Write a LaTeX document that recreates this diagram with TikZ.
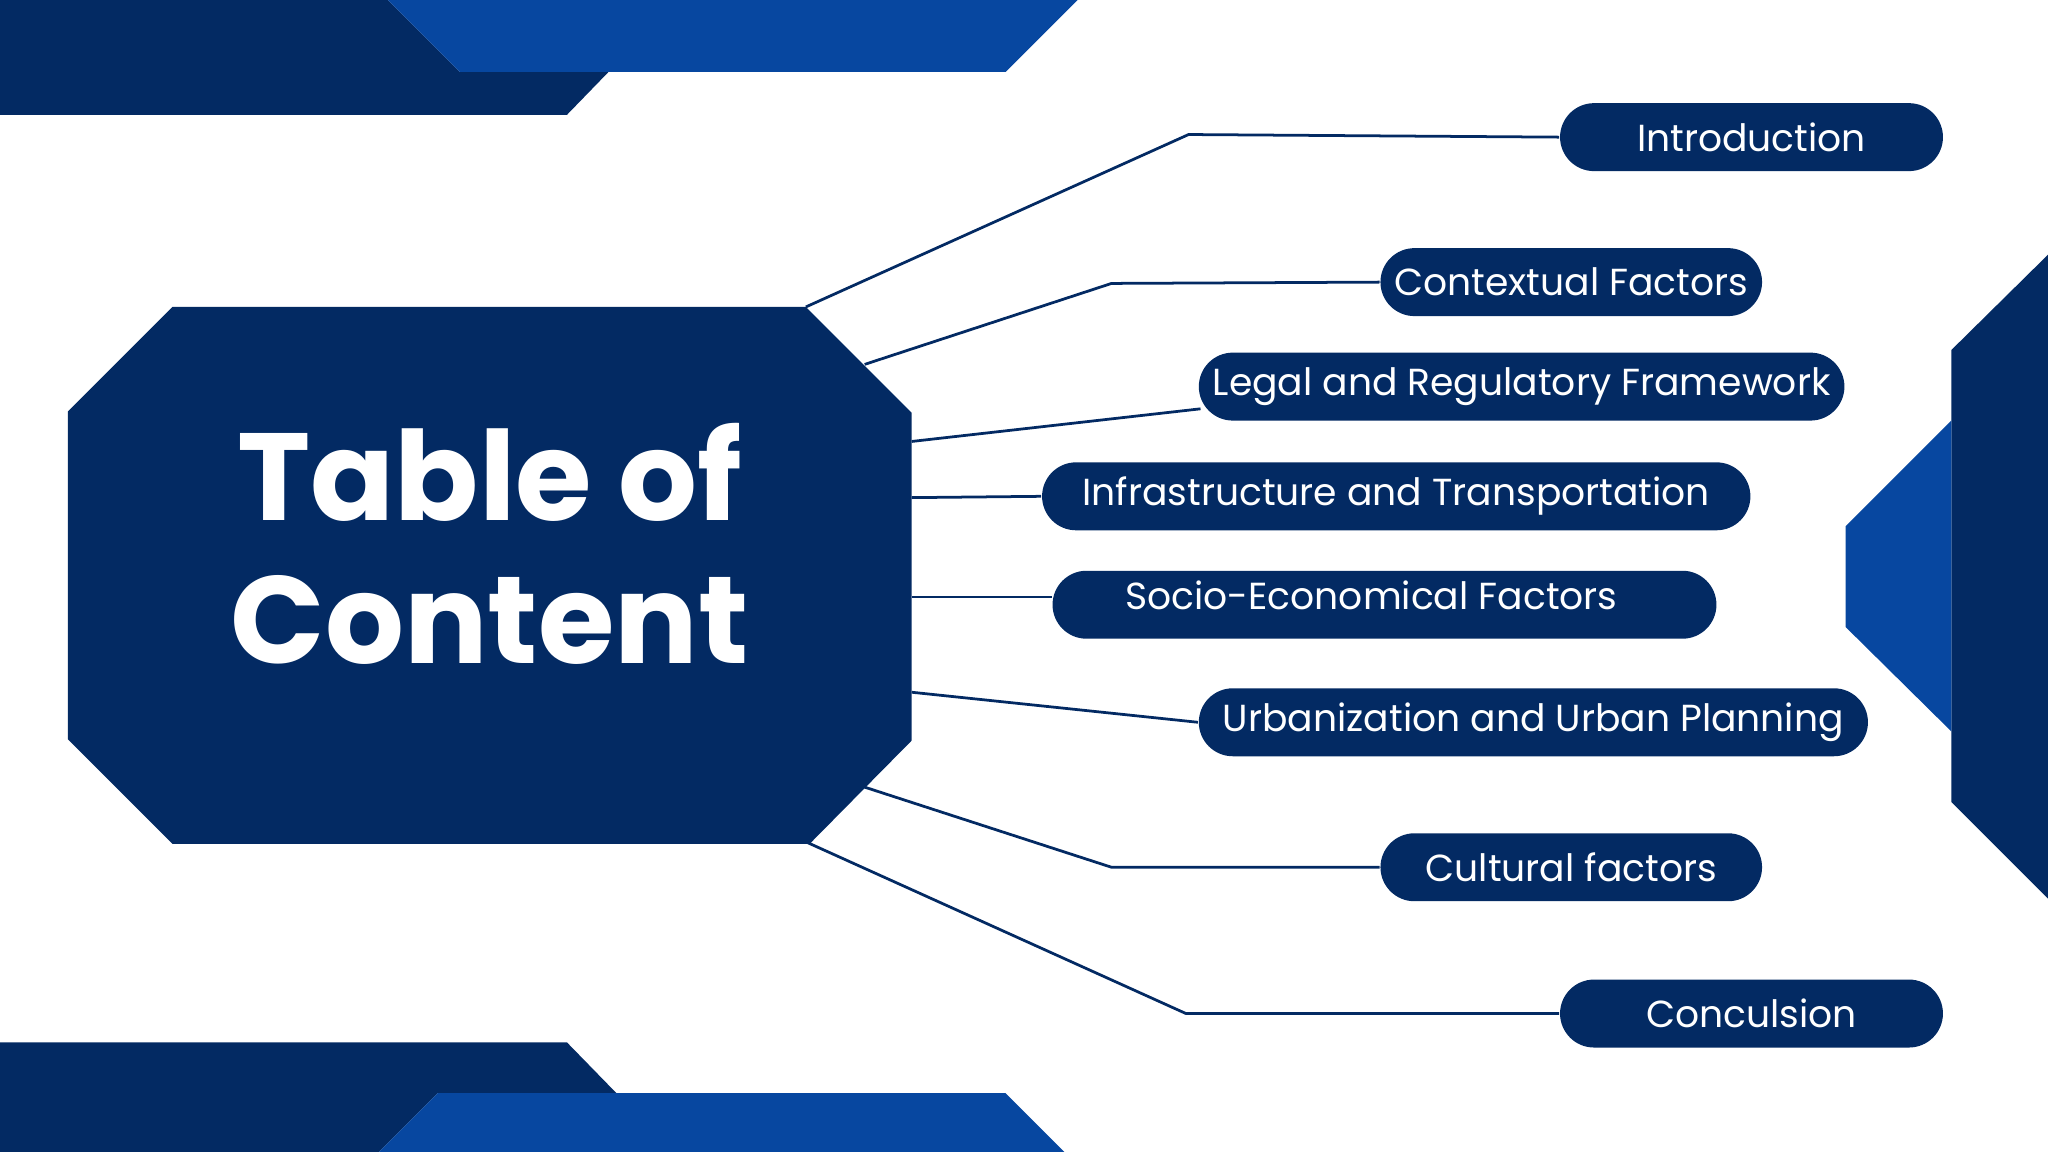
\documentclass[tikz,border=0pt]{standalone}
\usepackage{fontspec}
\setmainfont{Poppins}
\usetikzlibrary{calc}
\definecolor{navy}{HTML}{032A63}
\definecolor{brite}{HTML}{0747A0}
\begin{document}
\begin{tikzpicture}[x=0.01cm,y=-0.01cm,
  pill/.style={fill=navy,text=white,rounded corners=0.26cm,minimum height=0.52cm,inner sep=0pt,font=\fontsize{8.2}{9}\selectfont},
  link/.style={draw=navy,line width=0.6pt}]
\useasboundingbox (0,0) rectangle (1568,882);
% decorations
\fill[navy] (0,0)--(297,0)--(352,55)--(466,55)--(434,88)--(0,88)--cycle;
\fill[brite] (297,0)--(825,0)--(770,55)--(352,55)--cycle;
\fill[navy] (0,798)--(434,798)--(472,837)--(335,837)--(290,882)--(0,882)--cycle;
\fill[brite] (335,837)--(770,837)--(815,882)--(290,882)--cycle;
\fill[navy] (1568,195)--(1494,268)--(1494,614)--(1568,688)--cycle;
\fill[brite] (1494,322)--(1413,403)--(1413,480)--(1494,560)--cycle;
% octagon
\fill[navy] (132,235)--(617,235)--(698,316)--(698,567)--(620,646)--(132,646)--(52,566)--(52,315)--cycle;
\node[text=white,font=\fontsize{27}{30}\selectfont\bfseries] (title1) at (375,362) {Table of};
\node[text=white,font=\fontsize{27}{30}\selectfont\bfseries] (title2) at (375,475) {Content};
% corner coordinates
\coordinate (c1) at (617,235);
\coordinate (c2) at (662,279);
\coordinate (c3) at (698,338);
\coordinate (c4) at (698,381);
\coordinate (c5) at (698,457);
\coordinate (c6) at (698,530);
\coordinate (c7) at (660,602);
\coordinate (c8) at (618,645);
% pills
\node[pill,minimum width=2.93cm] (p1) at (1341,105) {Introduction};
\node[pill,minimum width=2.92cm] (p2) at (1203,216) {Contextual Factors};
\node[pill,minimum width=4.94cm] (p3) at (1165,296) {Legal and Regulatory Framework};
\node[pill,minimum width=5.42cm] (p4) at (1069,380) {Infrastructure and Transportation};
\node[pill,minimum width=5.08cm] (p5) at (1060,463) {};
\node[text=white,font=\fontsize{8.2}{9}\selectfont,inner sep=0pt] (t5) at (1050,456) {Socio-Economical Factors};
\node[pill,minimum width=5.12cm] (p6) at (1174,553) {Urbanization and Urban Planning};
\node[pill,minimum width=2.92cm] (p7) at (1203,664) {Cultural factors};
\node[pill,minimum width=2.93cm] (p8) at (1341,776) {Conculsion};
% connectors
\draw[link] (c1) -- (910,103) -- (p1.west);
\draw[link] (c2) -- (851,217) -- (p2.west);
\draw[link] (c3) -- ($(p3.west)+(2,17)$);
\draw[link] (c4) -- (p4.west);
\draw[link] (c5) -- ($(p5.west)+(0,-6)$);
\draw[link] (c6) -- (p6.west);
\draw[link] (c7) -- (851,664) -- (p7.west);
\draw[link] (c8) -- (908,776) -- (p8.west);
\end{tikzpicture}
\end{document}
